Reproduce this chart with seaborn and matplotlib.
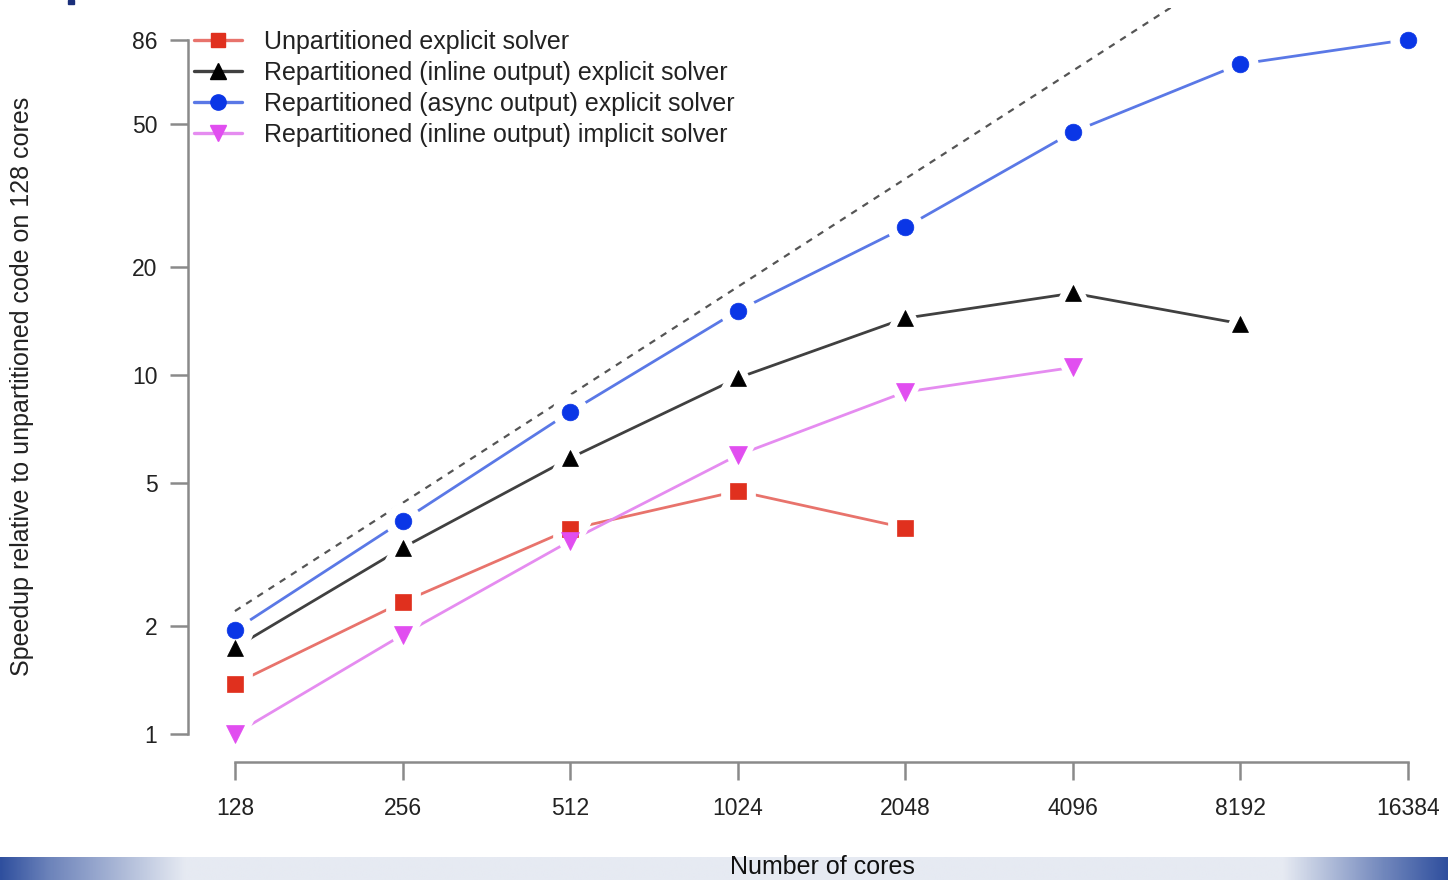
import numpy as np
import pandas as pd
import matplotlib
matplotlib.use("Agg")
import matplotlib.pyplot as plt
from matplotlib.lines import Line2D
from matplotlib.colors import LinearSegmentedColormap
import seaborn as sns

# ---- data ----
cores = [128, 256, 512, 1024, 2048, 4096, 8192, 16384]
unpart_explicit = [1.38, 2.33, 3.72, 4.75, 3.75]
inline_explicit = [1.74, 3.30, 5.87, 9.81, 14.4, 16.9, 13.9]
async_explicit = [1.95, 3.92, 7.89, 15.1, 25.8, 47.5, 73.5, 86.0]
inline_implicit = [1.0, 1.89, 3.45, 5.98, 8.97, 10.5]
ideal = [2.2, 4.4, 8.8, 17.6, 35.2, 70.4, 140.8]
series_names = ["Unpartitioned explicit solver",
                "Repartitioned (inline output) explicit solver",
                "Repartitioned (async output) explicit solver",
                "Repartitioned (inline output) implicit solver"]
y_ticks = [1, 2, 5, 10, 20, 50, 86]
x_label = "Number of cores"
y_label = "Speedup relative to unpartitioned code on 128 cores"

sns.set_style("white")
plt.rcParams["font.family"] = ["Liberation Sans", "DejaVu Sans"]

W, H = 1448, 880
fig = plt.figure(figsize=(W / 100, H / 100), dpi=100)

# bottom banner (slide decoration)
bax = fig.add_axes([0, 0, 1, 23 / H])
bax.set_axis_off()
grad = np.concatenate([np.linspace(0.0, 0.35, 50), np.linspace(0.35, 1.0, 130),
                       np.ones(1060), np.linspace(1.0, 0.35, 100), np.linspace(0.35, 0.0, 60)])
cmap = LinearSegmentedColormap.from_list("banner", ["#2f4f9e", "#e6eaf2"])
bax.imshow(grad[np.newaxis, :], aspect="auto", cmap=cmap, extent=[0, 1, 0, 1])
bax.set_xlim(0, 1)
fig.patches.append(plt.Rectangle((68 / W, 1 - 4 / H), 6 / W, 4 / H,
                                 transform=fig.transFigure, color="#1a2f7a"))

left_px, right_px, top_px, bot_px = 188, 1455, 8, 762
ax = fig.add_axes([left_px / W, 1 - bot_px / H, (right_px - left_px) / W, (bot_px - top_px) / H])
ax.patch.set_alpha(0)

specs = [
    (unpart_explicit, "#e8736c", "#e0301e", "s", 11),
    (inline_explicit, "#404040", "#000000", "^", 12),
    (async_explicit, "#5a78e6", "#0a36e6", "o", 12),
    (inline_implicit, "#e58cf0", "#e14ef0", "v", 13),
]

df_ideal = pd.DataFrame({"x": cores[:len(ideal)], "y": ideal})
sns.lineplot(data=df_ideal, x="x", y="y", ax=ax, color="#555555", lw=1.6,
             linestyle=(0, (3, 3)))

handles = []
for (vals, lc, mc, mk, ms), name in zip(specs, series_names):
    df = pd.DataFrame({"x": cores[:len(vals)], "y": vals})
    sns.lineplot(data=df, x="x", y="y", ax=ax, color=lc, lw=2.0)
    sns.lineplot(data=df, x="x", y="y", ax=ax, color=mc, lw=0, marker=mk,
                 markersize=ms + 7, markeredgecolor="white", markeredgewidth=7,
                 markerfacecolor="white")
    handles.append(Line2D([], [], color=lc, lw=2.4, marker=mk, markersize=ms - 1,
                          markerfacecolor=mc, markeredgecolor=mc))
# markers on top of every line
for (vals, lc, mc, mk, ms) in specs:
    df = pd.DataFrame({"x": cores[:len(vals)], "y": vals})
    sns.lineplot(data=df, x="x", y="y", ax=ax, color=mc, lw=0, marker=mk,
                 markersize=ms, markeredgecolor=mc, markeredgewidth=0.5,
                 markerfacecolor=mc, zorder=5)

ax.set_xscale("log", base=2)
ax.set_yscale("log")
lx0, lx1 = np.log2(cores[0]), np.log2(cores[-1])
ext = (lx1 - lx0) * 0.04
ax.set_xlim(2 ** (lx0 - ext), 2 ** (lx1 + ext))
ax.set_ylim(10 ** (-(762 - 734) / 359), 10 ** ((734 - 8) / 359))

ax.set_xticks(cores)
ax.set_xticklabels([str(c) for c in cores])
ax.set_yticks(y_ticks)
ax.set_yticklabels([str(t) for t in y_ticks])
ax.minorticks_off()

for s in ["top", "right"]:
    ax.spines[s].set_visible(False)
for s in ["left", "bottom"]:
    ax.spines[s].set_color("#8a8a8a")
    ax.spines[s].set_linewidth(1.8)
ax.spines["left"].set_bounds(y_ticks[0], y_ticks[-1])
ax.spines["bottom"].set_bounds(cores[0], cores[-1])
ax.tick_params(axis="both", which="major", direction="out", length=13, width=1.8,
               color="#8a8a8a", labelsize=16.5, labelcolor="#222222",
               bottom=True, left=True)
ax.tick_params(axis="x", pad=12)
ax.tick_params(axis="y", pad=9)

ax.set_xlabel("")
ax.set_ylabel("")
fig.text(822 / W, 1 - 867 / H, x_label, ha="center", va="center", fontsize=18, color="#111111")
fig.text(22 / W, 1 - 386 / H, y_label, ha="center", va="center", rotation=90,
         fontsize=18, color="#222222")

leg = ax.legend(handles, series_names, loc="upper left", frameon=False,
                bbox_to_anchor=((194 - left_px) / (right_px - left_px), 1 - (30 - top_px) / (bot_px - top_px)),
                fontsize=18, handlelength=1.9, handletextpad=0.9, labelspacing=0.28,
                borderaxespad=0, borderpad=0)
for t in leg.get_texts():
    t.set_color("#222222")

fig.savefig("out.png", dpi=100)
